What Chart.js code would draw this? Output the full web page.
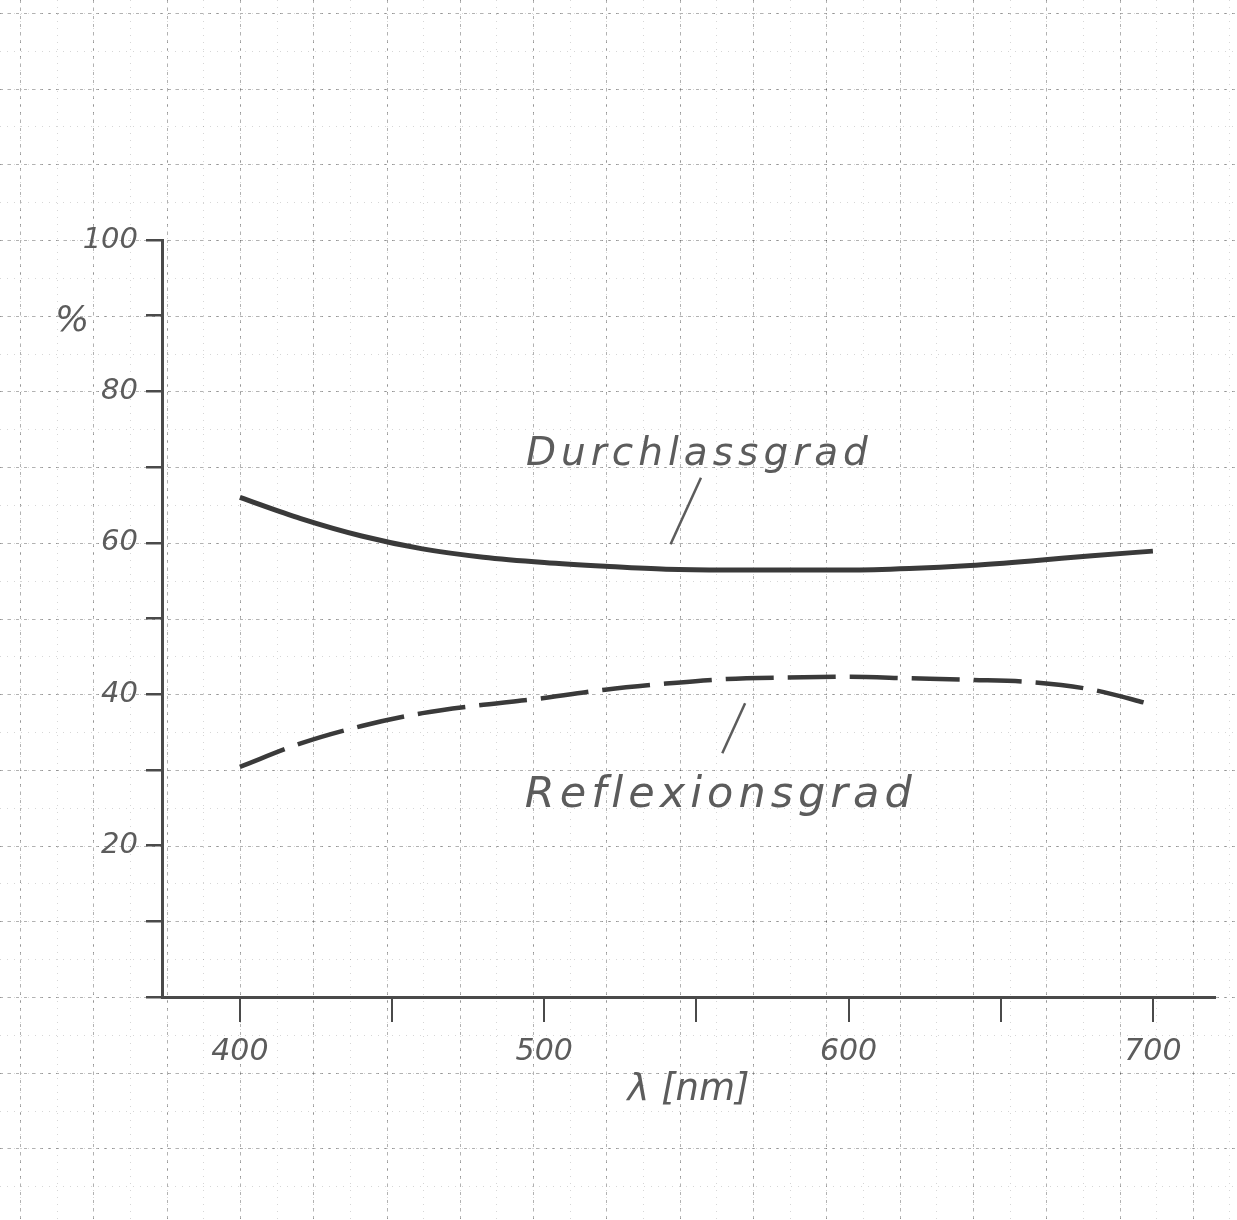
<!DOCTYPE html>
<html>
<head>
<meta charset="utf-8">
<script src="https://cdn.jsdelivr.net/npm/chart.js@4.4.1/dist/chart.umd.min.js"></script>
<style>
  html, body { margin: 0; background: #fff; }
  #wrap { width: 1237px; height: 1220px; position: relative; }
</style>
</head>
<body>
<div id="wrap"><canvas id="chart"></canvas></div>
<script>
// values
const wavelengths = [400, 420, 440, 460, 480, 500, 520, 540, 560, 580, 600, 620, 640, 660, 680, 700];
const durchlass   = [66.0, 63.2, 60.9, 59.2, 58.1, 57.4, 56.9, 56.5, 56.4, 56.4, 56.4, 56.6, 57.0, 57.6, 58.3, 58.9];
const reflexion   = [30.4, 33.5, 35.8, 37.5, 38.6, 39.5, 40.6, 41.4, 42.0, 42.2, 42.3, 42.1, 41.9, 41.6, 40.6, 38.6];
const xTicks  = [400, 450, 500, 550, 600, 650, 700];
const xLabels = [400, 500, 600, 700];
const yLabels = [20, 40, 60, 80, 100];

const pencil = '#3a3a3a';
const lead = '#5c5c5c';
const hand = 'DejaVu Sans';

// labels written on the sheet, placed in data units
const notes = [
  { text: 'Durchlassgrad', size: 39, spacing: 5, x: 551, y: 71.6, from: [551.5, 68.6], to: [541.5, 59.8] },
  { text: 'Reflexionsgrad', size: 43, spacing: 5, x: 558, y: 26.6, from: [566, 38.8], to: [558.5, 32.2] },
];

const paper = {
  id: 'paper',
  beforeDraw(chart) {
    const { ctx, width, height, scales: { x, y } } = chart;
    const x0 = x.getPixelForValue(400);
    const y0 = y.getPixelForValue(0);
    const sx = 73.3;
    const sy = y0 - y.getPixelForValue(10);
    ctx.save();
    ctx.fillStyle = '#fff';
    ctx.fillRect(0, 0, width, height);
    const lines = (step, dash, color, w) => {
      ctx.strokeStyle = color;
      ctx.lineWidth = w;
      ctx.setLineDash(dash);
      ctx.beginPath();
      for (let px = x0 - Math.ceil(x0 / step) * step; px <= width; px += step) {
        ctx.moveTo(Math.round(px) + 0.5, 0); ctx.lineTo(Math.round(px) + 0.5, height);
      }
      ctx.stroke();
    };
    const rows = (step, dash, color, w) => {
      ctx.strokeStyle = color;
      ctx.lineWidth = w;
      ctx.setLineDash(dash);
      ctx.beginPath();
      for (let py = y0 - Math.ceil(y0 / step) * step; py <= height; py += step) {
        ctx.moveTo(0, Math.round(py) + 0.5); ctx.lineTo(width, Math.round(py) + 0.5);
      }
      ctx.stroke();
    };
    lines(sx / 2, [1, 6], 'rgba(0,0,0,0.16)', 1);
    rows(sy / 2, [1, 6], 'rgba(0,0,0,0.16)', 1);
    lines(sx, [3, 5], 'rgba(0,0,0,0.3)', 1);
    rows(sy, [3, 5], 'rgba(0,0,0,0.3)', 1);
    ctx.restore();
  },
  afterDatasetsDraw(chart) {
    const { ctx, scales: { x, y } } = chart;
    ctx.save();
    ctx.fillStyle = lead;
    ctx.strokeStyle = lead;
    ctx.textAlign = 'center';
    ctx.textBaseline = 'middle';
    notes.forEach(n => {
      ctx.font = 'italic ' + n.size + 'px "' + hand + '"';
      ctx.letterSpacing = n.spacing + 'px';
      ctx.fillText(n.text, x.getPixelForValue(n.x), y.getPixelForValue(n.y));
      ctx.lineWidth = 2.5;
      ctx.beginPath();
      ctx.moveTo(x.getPixelForValue(n.from[0]), y.getPixelForValue(n.from[1]));
      ctx.lineTo(x.getPixelForValue(n.to[0]), y.getPixelForValue(n.to[1]));
      ctx.stroke();
    });
    ctx.letterSpacing = '0px';
    ctx.font = 'italic 36px "' + hand + '"';
    ctx.fillText('%', y.left + 10, y.getPixelForValue(89.2));
    ctx.restore();
  }
};

new Chart(document.getElementById('chart'), {
  type: 'line',
  data: {
    labels: wavelengths,
    datasets: [
      {
        label: 'Durchlassgrad',
        data: wavelengths.map((w, i) => ({ x: w, y: durchlass[i] })),
        borderColor: pencil,
        borderWidth: 5,
        pointRadius: 0,
        cubicInterpolationMode: 'monotone',
        fill: false,
      },
      {
        label: 'Reflexionsgrad',
        data: wavelengths.map((w, i) => ({ x: w, y: reflexion[i] })),
        borderColor: pencil,
        borderWidth: 4.5,
        borderDash: [48, 14],
        pointRadius: 0,
        cubicInterpolationMode: 'monotone',
        fill: false,
      },
    ],
  },
  options: {
    responsive: true,
    maintainAspectRatio: false,
    animation: false,
    layout: { padding: { left: 62, top: 240, right: 22, bottom: 103 } },
    plugins: {
      legend: { display: false },
      tooltip: { enabled: false }
    },
    scales: {
      x: {
        type: 'linear',
        min: 374.4,
        max: 720.4,
        afterFit: s => { s.height = 120; },
        afterBuildTicks: s => { s.ticks = xTicks.map(v => ({ value: v })); },
        border: { display: true, color: '#4a4a4a', width: 3 },
        grid: { drawOnChartArea: false, drawTicks: true, tickLength: 25, color: '#4a4a4a', lineWidth: 2 },
        ticks: {
          padding: 12,
          color: lead,
          font: { family: hand, size: 30, style: 'italic' },
          callback: v => xLabels.includes(v) ? String(v) : ''
        },
        title: {
          display: true,
          text: 'λ [nm]',
          color: lead,
          font: { family: hand, size: 37, style: 'italic' },
          padding: { top: 0, bottom: 4 }
        }
      },
      y: {
        min: 0,
        max: 100,
        afterFit: s => { s.width = 100; },
        border: { display: true, color: '#4a4a4a', width: 3 },
        grid: { drawOnChartArea: false, drawTicks: true, tickLength: 16, color: '#4a4a4a', lineWidth: 2.5 },
        ticks: {
          stepSize: 10,
          padding: 8,
          color: lead,
          font: { family: hand, size: 29, style: 'italic' },
          callback: v => yLabels.includes(v) ? String(v) : ''
        }
      }
    }
  },
  plugins: [paper]
});
</script>
</body>
</html>
